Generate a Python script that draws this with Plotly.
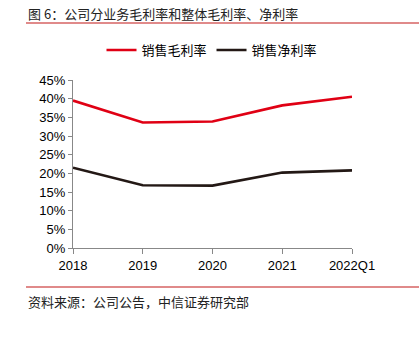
import plotly.graph_objects as go

categories = ["2018", "2019", "2020", "2021", "2022Q1"]
gross_margin = [39.5, 33.6, 33.9, 38.2, 40.5]
net_margin = [21.5, 16.8, 16.7, 20.2, 20.8]
y_ticks = [0, 5, 10, 15, 20, 25, 30, 35, 40, 45]
y_labels = [f"{v}%" for v in y_ticks]

W, H = 419, 339
L, R, T, B = 73, 67, 80, 91
pw, ph = W - L - R, H - T - B

def px(x):
    return (x - L) / pw

def py(y):
    return (H - B - y) / ph

font = "Liberation Sans, Arial, Noto Sans CJK SC, sans-serif"

fig = go.Figure()
fig.add_trace(go.Scatter(x=categories, y=gross_margin, mode="lines", name="销售毛利率",
                         line=dict(color="#e00014", width=2.6)))
fig.add_trace(go.Scatter(x=categories, y=net_margin, mode="lines", name="销售净利率",
                         line=dict(color="#231815", width=2.6)))

fig.update_layout(
    width=W, height=H,
    margin=dict(l=L, r=R, t=T, b=B, autoexpand=False),
    paper_bgcolor="white", plot_bgcolor="white",
    font=dict(family=font, size=13, color="#000"),
    showlegend=True,
    legend=dict(orientation="h", x=px(212), xanchor="center", y=py(50), yanchor="middle",
                font=dict(size=13, family="Noto Sans CJK SC, sans-serif"), itemwidth=30,
                tracegroupgap=0, bgcolor="rgba(0,0,0,0)"),
    xaxis=dict(type="category", range=[0, 4], showgrid=False, showline=True,
               linecolor="#888", linewidth=1, ticks="outside", ticklen=5, tickcolor="#888",
               tickfont=dict(size=13), zeroline=False),
    yaxis=dict(range=[0, 45], tickvals=y_ticks, ticktext=y_labels, showgrid=False,
               showline=True, linecolor="#888", linewidth=1, ticks="outside", ticklen=4,
               tickcolor="#888", tickfont=dict(size=13), zeroline=False),
    hovermode=False,
)

fig.add_annotation(text="图 6：公司分业务毛利率和整体毛利率、净利率", xref="paper", yref="paper",
                   x=px(26), y=py(13), xanchor="left", yanchor="middle", showarrow=False,
                   font=dict(size=13, family="Noto Sans CJK SC, sans-serif", color="#222"))
fig.add_annotation(text="资料来源：公司公告，中信证券研究部", xref="paper", yref="paper",
                   x=px(26), y=py(301), xanchor="left", yanchor="middle", showarrow=False,
                   font=dict(size=13, family="Noto Sans CJK SC, sans-serif", color="#222"))
for yy in (23, 287):
    fig.add_shape(type="line", xref="paper", yref="paper", x0=px(26), x1=px(419),
                  y0=py(yy), y1=py(yy), line=dict(color="#e08a8a", width=2))

fig.write_html("out.html")
